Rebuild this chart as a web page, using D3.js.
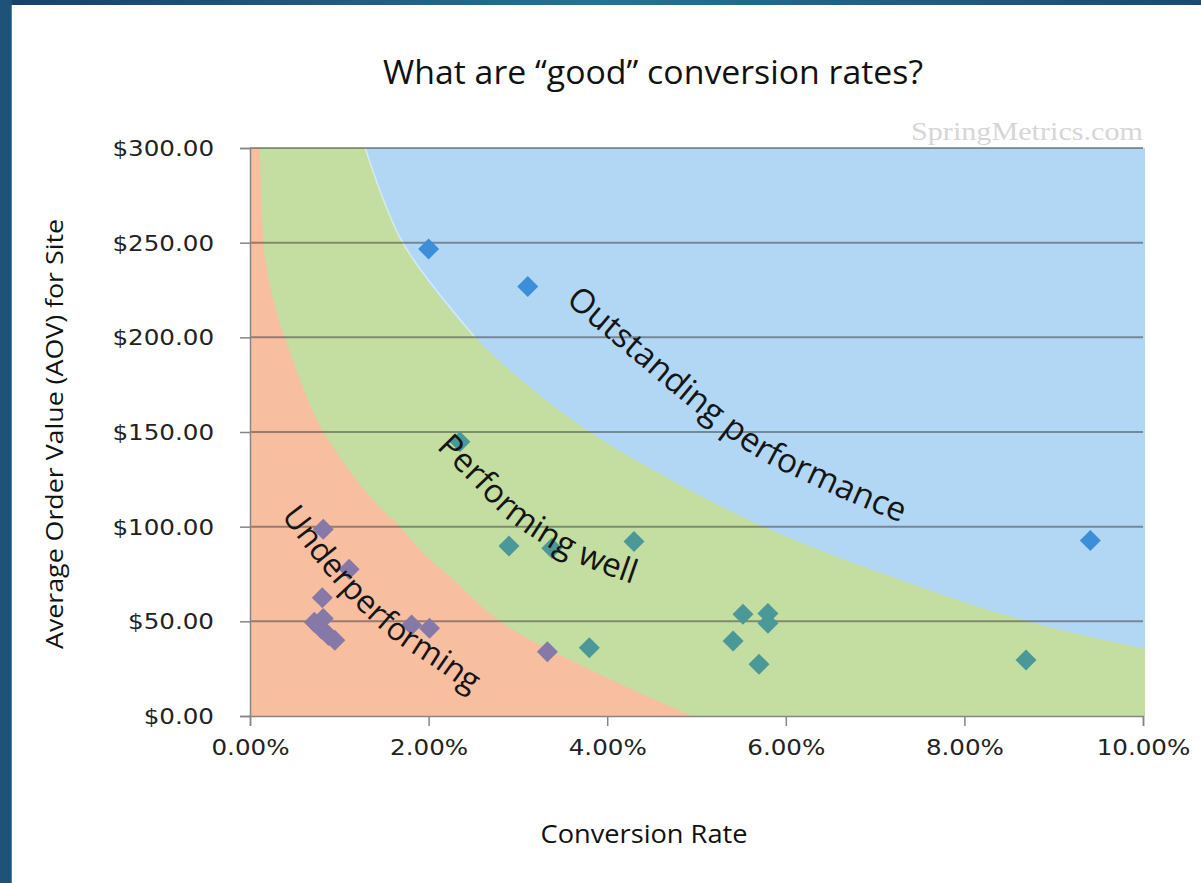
<!DOCTYPE html>
<html>
<head>
<meta charset="utf-8">
<script src="https://cdn.jsdelivr.net/npm/d3@7"></script>
<style>
  html, body { margin: 0; padding: 0; background: #ffffff; }
  svg { display: block; }
</style>
</head>
<body>
<svg id="chart" width="1201" height="883"></svg>
<script>
// ---- data ---------------------------------------------------------------
// axis ticks
const rateTicks = [0, 0.02, 0.04, 0.06, 0.08, 0.10];
const aovTicks = [0, 50, 100, 150, 200, 250, 300];

// sites: [conversion rate, average order value]
const underperformingSites = [
  [0.0082, 98.6], [0.0111, 77.5], [0.0081, 62.5], [0.0072, 49.5],
  [0.0082, 51.5], [0.0080, 46.0], [0.0088, 42.5], [0.0095, 40.0],
  [0.0181, 48.1], [0.0201, 46.3], [0.0333, 34.0]
];
const performingWellSites = [
  [0.0235, 144.9], [0.0290, 89.8], [0.0338, 88.6], [0.0430, 92.1],
  [0.0380, 36.1], [0.0552, 53.7], [0.0580, 54.2], [0.0580, 49.0],
  [0.0541, 39.6], [0.0570, 27.3], [0.0869, 29.6]
];
const outstandingSites = [
  [0.0200, 246.7], [0.0311, 226.8], [0.0941, 92.7]
];

// zone edges: [conversion rate, average order value]
const underperformingEdge = [
  [0.0011, 300], [0.0013, 270], [0.0016, 245], [0.0025, 222], [0.0039, 200],
  [0.0080, 152], [0.0138, 114], [0.0168, 100], [0.0194, 86], [0.0224, 73.6],
  [0.0280, 50], [0.0344, 33], [0.0414, 17], [0.0495, 0]
];
const outstandingEdge = [
  [0.0129, 300], [0.0171, 250], [0.0252, 200], [0.0365, 155], [0.0459, 128],
  [0.0575, 100], [0.0710, 75], [0.0870, 50], [0.1000, 35.7]
];

// zone captions and the curves they follow
const zoneNames = ["Underperforming", "Performing well", "Outstanding performance"];
const zoneCaptionGuides = [
  [[0.0035, 105.6], [0.0077, 79.8], [0.0118, 58.1], [0.0162, 39.6], [0.0207, 25.4], [0.0246, 12.7], [0.0290, 2]],
  [[0.02083, 141.6], [0.02475, 123.1], [0.02878, 104.1], [0.03303, 90.3], [0.03751, 79.2], [0.04255, 70.2], [0.04815, 61.8]],
  [[0.0353, 218.5], [0.0431, 187.5], [0.0498, 161.1], [0.0567, 136.8], [0.0635, 121.0], [0.0713, 105.1], [0.0790, 92]]
];
const zoneCaptionSizes = [32, 33, 33.5];

// ---- layout -------------------------------------------------------------
const svg = d3.select("#chart");
const W = 1201, H = 883;
const plot = { left: 250, right: 1143, top: 148, bottom: 716 };

const x = d3.scaleLinear().domain([0, 0.10]).range([plot.left, plot.right]);
const y = d3.scaleLinear().domain([0, 300]).range([plot.bottom, plot.top]);

const defs = svg.append("defs");

// frame
const topGrad = defs.append("linearGradient").attr("id", "frameTop")
  .attr("x1", "0").attr("x2", "1").attr("y1", "0").attr("y2", "0");
topGrad.append("stop").attr("offset", "0").attr("stop-color", "#17406a");
topGrad.append("stop").attr("offset", "0.5").attr("stop-color", "#2a7090");
topGrad.append("stop").attr("offset", "1").attr("stop-color", "#1a4a72");

svg.append("rect").attr("x", 0).attr("y", 0).attr("width", W).attr("height", H).attr("fill", "#ffffff");
svg.append("rect").attr("x", 0).attr("y", 0).attr("width", W).attr("height", 5).attr("fill", "url(#frameTop)");
svg.append("rect").attr("x", 0).attr("y", 0).attr("width", 12).attr("height", H).attr("fill", "#1e5279");
svg.append("rect").attr("x", 11).attr("y", 5).attr("width", 1).attr("height", H - 5).attr("fill", "#4f82a6");

// zones
const edgeLine = d3.line().x(d => x(d[0])).y(d => y(d[1])).curve(d3.curveCatmullRom.alpha(0.5));

defs.append("clipPath").attr("id", "plotClip")
  .append("rect").attr("x", plot.left).attr("y", plot.top)
  .attr("width", plot.right - plot.left + 2).attr("height", plot.bottom - plot.top);

const zones = svg.append("g").attr("clip-path", "url(#plotClip)");

zones.append("rect")
  .attr("x", plot.left).attr("y", plot.top)
  .attr("width", plot.right - plot.left + 2).attr("height", plot.bottom - plot.top)
  .attr("fill", "#c3dea0");

zones.append("path")
  .attr("d", edgeLine(underperformingEdge) + `L${x(0)},${y(0)}L${x(0)},${y(300)}Z`)
  .attr("fill", "#f8bea0");

zones.append("path")
  .attr("d", edgeLine(outstandingEdge) + `L${x(0.10) + 2},${y(35.7)}L${x(0.10) + 2},${y(300)}Z`)
  .attr("fill", "#b2d7f5");

// soft light edge along the upper part of the outstanding zone
zones.append("path")
  .attr("d", edgeLine(outstandingEdge.slice(0, 3)))
  .attr("fill", "none")
  .attr("stroke", "#ffffff").attr("stroke-opacity", 0.45).attr("stroke-width", 1.5);

// gridlines
svg.append("g").selectAll("line")
  .data(aovTicks.filter(v => v > 0))
  .join("line")
  .attr("x1", plot.left).attr("x2", plot.right)
  .attr("y1", d => y(d)).attr("y2", d => y(d))
  .attr("stroke", "#3a3a3a").attr("stroke-opacity", 0.5).attr("stroke-width", 2);

// axes
const yAxis = d3.axisLeft(y).tickValues(aovTicks).tickFormat(d3.format("$.2f"))
  .tickSize(10).tickPadding(26);
const xAxis = d3.axisBottom(x).tickValues(rateTicks).tickFormat(d3.format(".2%"))
  .tickSize(10).tickPadding(14);

const gy = svg.append("g").attr("transform", `translate(${plot.left},0)`).call(yAxis);
const gx = svg.append("g").attr("transform", `translate(0,${plot.bottom})`).call(xAxis);

[gx, gy].forEach(g => {
  g.select(".domain").attr("stroke", "#868686").attr("stroke-width", 1.5);
  g.selectAll(".tick line").attr("stroke", "#868686").attr("stroke-width", 1.5);
  g.selectAll(".tick text")
    .attr("fill", "#222")
    .style("font-family", "'DejaVu Sans', sans-serif")
    .style("font-size", "21px");
});
// the tick labels are drawn slightly widened
[gx, gy].forEach(g => {
  g.selectAll(".tick text").each(function () {
    const len = this.getComputedTextLength();
    d3.select(this).attr("textLength", len * 1.17).attr("lengthAdjust", "spacingAndGlyphs");
  });
});
gy.selectAll(".tick text").attr("dy", "0.36em");

// site markers
const diamond = "M0,-10.5L10.5,0L0,10.5L-10.5,0Z";
const seriesList = [
  { data: underperformingSites, color: "#8679a8" },
  { data: performingWellSites, color: "#4b9898" },
  { data: outstandingSites, color: "#3d8ed8" }
];
seriesList.forEach(s => {
  svg.append("g").selectAll("path")
    .data(s.data)
    .join("path")
    .attr("d", diamond)
    .attr("transform", d => `translate(${x(d[0])},${y(d[1])})`)
    .attr("fill", s.color);
});

// zone captions along curves
const captionLine = d3.line().x(d => x(d[0])).y(d => y(d[1])).curve(d3.curveCatmullRom.alpha(0.5));
zoneNames.forEach((name, i) => {
  defs.append("path").attr("id", `zoneGuide${i}`).attr("d", captionLine(zoneCaptionGuides[i]));
  svg.append("text")
    .style("font-family", "'Open Sans', sans-serif")
    .style("font-size", `${zoneCaptionSizes[i]}px`)
    .attr("fill", "#151515")
    .append("textPath")
    .attr("href", `#zoneGuide${i}`)
    .text(name);
});

// watermark
svg.append("text")
  .attr("x", 1143).attr("y", 140)
  .attr("text-anchor", "end")
  .style("font-family", "'Liberation Serif', serif")
  .style("font-size", "25px")
  .attr("fill", "#d6d6d6")
  .attr("textLength", 232).attr("lengthAdjust", "spacingAndGlyphs")
  .text("SpringMetrics.com");

// title and axis titles
svg.append("text")
  .attr("x", 653).attr("y", 84)
  .attr("text-anchor", "middle")
  .style("font-family", "'Open Sans', sans-serif")
  .style("font-size", "32px")
  .attr("fill", "#111")
  .attr("textLength", 540).attr("lengthAdjust", "spacingAndGlyphs")
  .text("What are “good” conversion rates?");

svg.append("text")
  .attr("x", 644).attr("y", 843)
  .attr("text-anchor", "middle")
  .style("font-family", "'Open Sans', sans-serif")
  .style("font-size", "25px")
  .attr("fill", "#111")
  .attr("textLength", 207).attr("lengthAdjust", "spacingAndGlyphs")
  .text("Conversion Rate");

svg.append("text")
  .attr("transform", "translate(63,434) rotate(-90)")
  .attr("text-anchor", "middle")
  .style("font-family", "'Open Sans', sans-serif")
  .style("font-size", "24px")
  .attr("fill", "#111")
  .attr("textLength", 430).attr("lengthAdjust", "spacingAndGlyphs")
  .text("Average Order Value (AOV) for Site");
</script>
</body>
</html>
